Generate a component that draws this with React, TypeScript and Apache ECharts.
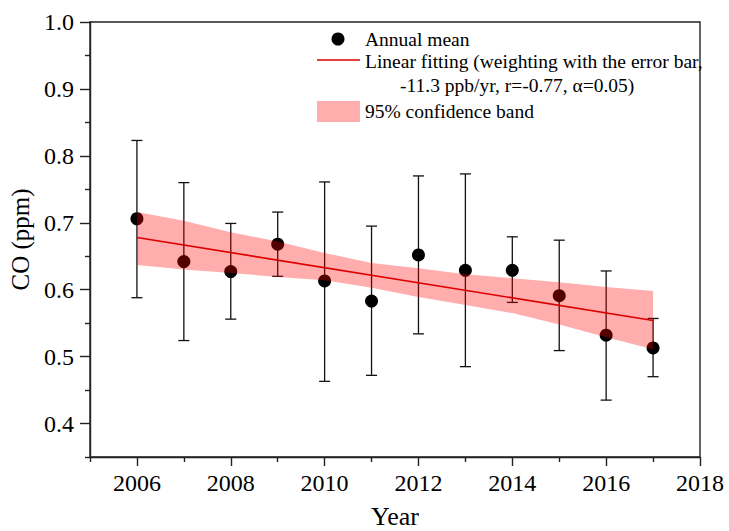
import React, { useEffect, useRef } from "react";
import * as echarts from "echarts";

// Annual CO means with their error bars
const years = [2006, 2007, 2008, 2009, 2010, 2011, 2012, 2013, 2014, 2015, 2016, 2017];
const annualMean = [0.706, 0.642, 0.627, 0.668, 0.613, 0.583, 0.652, 0.629, 0.629, 0.591, 0.532, 0.513];
const errUpper = [0.823, 0.760, 0.699, 0.716, 0.761, 0.695, 0.770, 0.773, 0.679, 0.674, 0.628, 0.557];
const errLower = [0.588, 0.524, 0.556, 0.620, 0.463, 0.472, 0.534, 0.485, 0.581, 0.509, 0.435, 0.470];

// Weighted linear fit end points
const fitYears = [2006, 2017];
const fitValues = [0.678, 0.554];

// 95% confidence band around the fit
const bandUpper = [0.716, 0.703, 0.686, 0.672, 0.655, 0.640, 0.632, 0.623, 0.617, 0.611, 0.604, 0.598];
const bandLower = [0.637, 0.630, 0.625, 0.619, 0.614, 0.603, 0.589, 0.577, 0.565, 0.548, 0.529, 0.511];

// Axis ticks
const xMajorTicks = [2006, 2008, 2010, 2012, 2014, 2016, 2018];
const xMinorTicks = [2005, 2007, 2009, 2011, 2013, 2015, 2017];
const yMajorTicks = [0.4, 0.5, 0.6, 0.7, 0.8, 0.9, 1.0];
const yMinorTicks = [0.35, 0.45, 0.55, 0.65, 0.75, 0.85, 0.95];

const FONT = "Liberation Serif";
const AXIS_COLOR = "#222";
const BAND_FILL = "rgba(255, 0, 0, 0.32)";
const FIT_COLOR = "#dd0000";

const tickText = { fontFamily: FONT, fontSize: 24, color: "#000" };

export default function App() {
  const ref = useRef<HTMLDivElement>(null);

  useEffect(() => {
    if (!ref.current) return;
    const chart = echarts.init(ref.current, null, { renderer: "svg" });

    const xBase = { type: "value", min: 2005, max: 2018, gridIndex: 0 };
    const yBase = { type: "value", min: 0.35, max: 1.0, gridIndex: 0 };

    const option: any = {
      animation: false,
      backgroundColor: "#fff",
      textStyle: { fontFamily: FONT },
      grid: {
        left: 90,
        right: 29,
        top: 22,
        bottom: 74,
        outerBoundsMode: "none",
        containLabel: false,
        show: true,
        borderColor: AXIS_COLOR,
        borderWidth: 1.4,
        backgroundColor: "transparent",
      },
      xAxis: [
        {
          ...xBase,
          interval: 1,
          position: "bottom",
          name: "Year",
          nameLocation: "middle",
          nameGap: 46,
          nameTextStyle: { fontFamily: FONT, fontSize: 26, color: "#000" },
          axisLine: { show: true, lineStyle: { color: AXIS_COLOR, width: 1.4 } },
          splitLine: { show: false },
          axisTick: {
            show: true,
            inside: false,
            length: 9,
            customValues: xMajorTicks,
            lineStyle: { color: AXIS_COLOR, width: 1.4 },
          },
          axisLabel: {
            show: true,
            margin: 14,
            ...tickText,
            formatter: (v: number) => (xMajorTicks.includes(Math.round(v)) ? String(Math.round(v)) : ""),
          },
        },
        {
          ...xBase,
          position: "bottom",
          axisLine: { show: false },
          splitLine: { show: false },
          axisLabel: { show: false },
          axisTick: {
            show: true,
            length: 5,
            customValues: xMinorTicks,
            lineStyle: { color: AXIS_COLOR, width: 1.4 },
          },
        },
      ],
      yAxis: [
        {
          ...yBase,
          interval: 0.05,
          position: "left",
          name: "CO (ppm)",
          nameLocation: "middle",
          nameGap: 56,
          nameTextStyle: { fontFamily: FONT, fontSize: 25, color: "#000" },
          axisLine: { show: true, lineStyle: { color: AXIS_COLOR, width: 1.4 } },
          splitLine: { show: false },
          axisTick: {
            show: true,
            length: 10,
            customValues: yMajorTicks,
            lineStyle: { color: AXIS_COLOR, width: 1.4 },
          },
          axisLabel: {
            show: true,
            margin: 16,
            ...tickText,
            formatter: (v: number) => {
              const k = Math.round(v * 100);
              return k % 10 === 0 ? (k / 100).toFixed(1) : "";
            },
          },
        },
        {
          ...yBase,
          position: "left",
          axisLine: { show: false },
          splitLine: { show: false },
          axisLabel: { show: false },
          axisTick: {
            show: true,
            length: 5,
            customValues: yMinorTicks,
            lineStyle: { color: AXIS_COLOR, width: 1.4 },
          },
        },
      ],
      series: [
        {
          // error bars with caps
          type: "custom",
          name: "error",
          xAxisIndex: 0,
          yAxisIndex: 0,
          z: 2,
          data: years.map((y, i) => [y, errLower[i], errUpper[i]]),
          encode: { x: 0, y: [1, 2] },
          renderItem: (params: any, api: any) => {
            const x = api.value(0);
            const lo = api.coord([x, api.value(1)]);
            const hi = api.coord([x, api.value(2)]);
            const half = 5.5;
            const style = { stroke: "#111", lineWidth: 1.3 };
            return {
              type: "group",
              children: [
                { type: "line", shape: { x1: lo[0], y1: lo[1], x2: hi[0], y2: hi[1] }, style },
                { type: "line", shape: { x1: hi[0] - half, y1: hi[1], x2: hi[0] + half, y2: hi[1] }, style },
                { type: "line", shape: { x1: lo[0] - half, y1: lo[1], x2: lo[0] + half, y2: lo[1] }, style },
              ],
            };
          },
        },
        {
          type: "scatter",
          name: "Annual mean",
          xAxisIndex: 0,
          yAxisIndex: 0,
          z: 3,
          symbol: "circle",
          symbolSize: 13,
          itemStyle: { color: "#000", opacity: 1 },
          data: years.map((y, i) => [y, annualMean[i]]),
        },
        {
          // confidence band drawn as one polygon
          type: "custom",
          name: "95% confidence band",
          xAxisIndex: 0,
          yAxisIndex: 0,
          z: 4,
          data: years.map((y, i) => [y, bandLower[i], bandUpper[i]]),
          encode: { x: 0, y: [1, 2] },
          renderItem: (params: any, api: any) => {
            if (params.dataIndex !== 0) return { type: "group", children: [] };
            const pts: number[][] = [];
            years.forEach((y, i) => pts.push(api.coord([y, bandUpper[i]])));
            for (let i = years.length - 1; i >= 0; i--) {
              pts.push(api.coord([years[i], bandLower[i]]));
            }
            return {
              type: "polygon",
              shape: { points: pts },
              style: { fill: BAND_FILL, stroke: "none" },
            };
          },
        },
        {
          type: "line",
          name: "Linear fitting",
          xAxisIndex: 0,
          yAxisIndex: 0,
          z: 5,
          symbol: "none",
          lineStyle: { color: FIT_COLOR, width: 1.6 },
          data: fitYears.map((y, i) => [y, fitValues[i]]),
        },
      ],
      graphic: [
        { type: "circle", shape: { cx: 338, cy: 39, r: 6.5 }, style: { fill: "#000" } },
        {
          type: "text",
          x: 365,
          y: 39,
          style: { text: "Annual mean", font: `19.5px ${FONT}`, fill: "#000", textVerticalAlign: "middle" },
        },
        {
          type: "line",
          shape: { x1: 317, y1: 60, x2: 360, y2: 60 },
          style: { stroke: FIT_COLOR, lineWidth: 1.5 },
        },
        {
          type: "text",
          x: 365,
          y: 61,
          style: {
            text: "Linear fitting (weighting with the error bar,",
            font: `19.5px ${FONT}`,
            fill: "#000",
            textVerticalAlign: "middle",
          },
        },
        {
          type: "text",
          x: 400,
          y: 85,
          style: {
            text: "-11.3 ppb/yr, r=-0.77, α=0.05)",
            font: `19.5px ${FONT}`,
            fill: "#000",
            textVerticalAlign: "middle",
          },
        },
        {
          type: "rect",
          shape: { x: 317, y: 101, width: 43, height: 21 },
          style: { fill: BAND_FILL },
        },
        {
          type: "text",
          x: 365,
          y: 111,
          style: { text: "95% confidence band", font: `19.5px ${FONT}`, fill: "#000", textVerticalAlign: "middle" },
        },
      ],
    };

    chart.setOption(option);
    return () => chart.dispose();
  }, []);

  return (
    <div
      ref={ref}
      style={{ position: "fixed", left: 0, top: 0, width: 729, height: 531, background: "#fff" }}
    />
  );
}
